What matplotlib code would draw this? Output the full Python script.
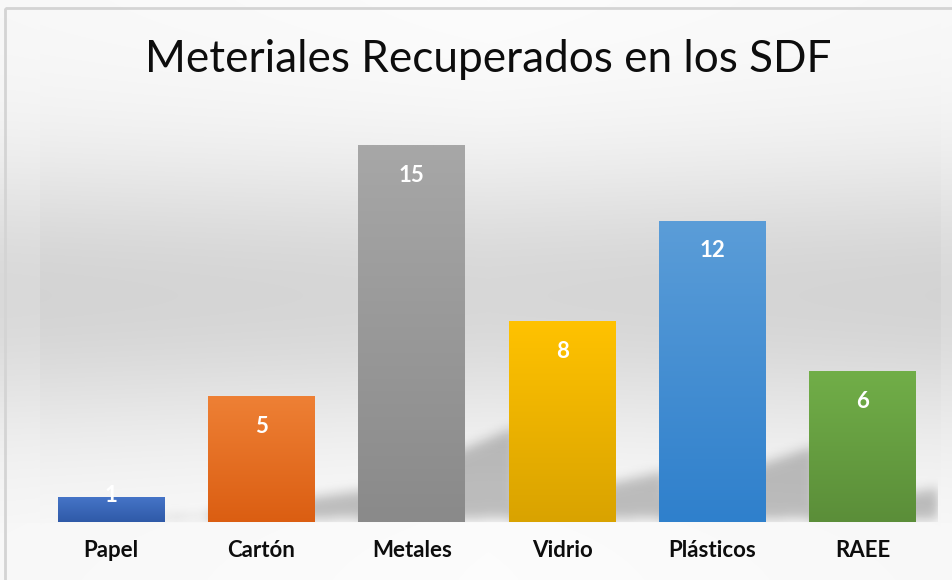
import matplotlib.pyplot as plt
import numpy as np
from matplotlib.patches import Rectangle
from matplotlib.path import Path

plt.rcParams['font.family'] = ['Lato', 'DejaVu Sans']

# datos
categorias = ['Papel', 'Cartón', 'Metales', 'Vidrio', 'Plásticos', 'RAEE']
valores = [1, 5, 15, 8, 12, 6]
color_arriba = ['#4675C8', '#EE8035', '#A7A7A7', '#FFC200', '#5B9DD8', '#71AE48']
color_abajo = ['#2F5AA8', '#DB5E12', '#8A8A8A', '#D9A300', '#2F80CC', '#5B8E39']
titulo = 'Meteriales Recuperados en los SDF'


def hex_rgb(c):
    c = c.lstrip('#')
    return np.array([int(c[i:i + 2], 16) / 255 for i in (0, 2, 4)])


def blur(img, sx, sy):
    # desenfoque gaussiano separable (sigma en pixeles)
    def kern(s):
        r = int(3 * s) + 1
        t = np.arange(-r, r + 1)
        k = np.exp(-t ** 2 / (2 * s ** 2))
        return k / k.sum()
    kx, ky = kern(sx), kern(sy)
    img = np.apply_along_axis(lambda m: np.convolve(m, kx, mode='same'), 1, img)
    img = np.apply_along_axis(lambda m: np.convolve(m, ky, mode='same'), 0, img)
    return img


fig = plt.figure(figsize=(9.52, 5.8), dpi=100)

# fondo del grafico (degradado)
bg = fig.add_axes([0, 0, 1, 1])
bg.set_xlim(0, 952)
bg.set_ylim(580, 0)
bg.axis('off')
yy, xx = np.mgrid[0:580, 0:952].astype(float)
banda = np.exp(-((yy - 295) / 140) ** 2)
banda = np.where(yy > 522, banda * 0.35, banda)
banda = banda * np.where((xx < 40) | (xx > 940), 0.85, 1.0)
g = 0.99 - 0.145 * banda - 0.015 * np.clip(np.abs(xx - 488) / 480, 0, 1)
bg.imshow(np.dstack([g, g, g]), extent=[0, 952, 580, 0], aspect='auto', zorder=0,
          interpolation='bilinear')
bg.add_patch(Rectangle((5, 8), 1000, 600, fill=False, edgecolor='#d4d4d4', lw=2, zorder=1))

bg.text(488, 60, titulo, ha='center', va='center', fontsize=31.8, fontweight='normal', color='#0d0d0d')

ax = fig.add_axes([36 / 952, 58 / 580, 902 / 952, 402 / 580])
x = np.arange(len(categorias))
ancho = 0.71
ax.set_xlim(-0.5, len(categorias) - 0.5)
ax.set_ylim(0, 16)
ax.patch.set_alpha(0)

# sombras de las barras
ny, nx = 400, 900
px = np.linspace(-0.5, len(categorias) - 0.5, nx)
py = np.linspace(16, 0, ny)
PX, PY = np.meshgrid(px, py)
pts = np.column_stack([PX.ravel(), PY.ravel()])
mask = np.zeros(nx * ny)
for xi, v in zip(x, valores):
    xl, xr = xi - ancho / 2, xi + ancho / 2
    h = 0.25 * v
    poly = Path([(xl, 0), (xr + 0.33, 0.15), (xr + 0.33, h), (xl, 0.3 * h), (xl, 0)])
    mask = np.maximum(mask, poly.contains_points(pts))
mask = blur(mask.reshape(ny, nx), 5, 6)
sombra = np.zeros((ny, nx, 4))
sombra[..., 3] = 0.24 * np.clip(mask, 0, 1)
ax.imshow(sombra, extent=[-0.5, len(categorias) - 0.5, 0, 16], aspect='auto',
          interpolation='bilinear', zorder=1)

# barras con degradado vertical
for xi, v, c1, c2 in zip(x, valores, color_arriba, color_abajo):
    t = np.linspace(0, 1, 100)[:, None]
    col = hex_rgb(c1)[None, None, :] * (1 - t[..., None]) + hex_rgb(c2)[None, None, :] * t[..., None]
    col = np.repeat(col, 2, axis=1)
    rect = Rectangle((xi - ancho / 2, 0), ancho, v, facecolor='none', edgecolor='none')
    ax.add_patch(rect)
    im = ax.imshow(col, extent=[xi - ancho / 2, xi + ancho / 2, 0, v], aspect='auto',
                   interpolation='bilinear', zorder=2)
    im.set_clip_path(rect)
    ax.text(xi, max(v - 1.2, 1.05), str(v), ha='center', va='center', color='white',
            fontsize=16, fontweight='bold', zorder=3)

ax.set_xticks(x)
ax.set_xticklabels(categorias, fontsize=16, fontweight='bold', color='#0d0d0d')
ax.tick_params(axis='x', length=0, pad=13)
ax.set_yticks([])
for s in ax.spines.values():
    s.set_visible(False)
ax.set_xlim(-0.5, len(categorias) - 0.5)
ax.set_ylim(0, 16)

fig.savefig('out.png', dpi=100)
